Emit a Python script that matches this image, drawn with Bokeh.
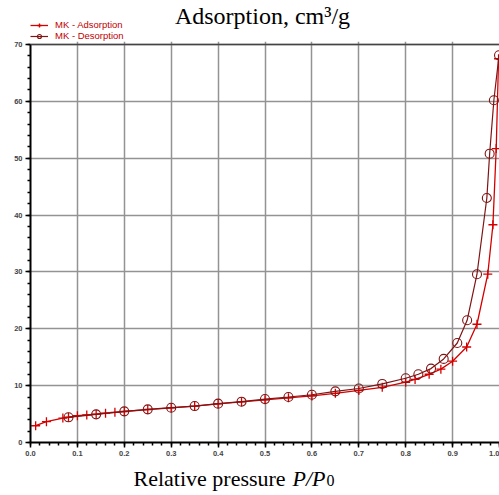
from bokeh.plotting import figure
from bokeh.layouts import column
from bokeh.models import (Legend, LegendItem, FixedTicker, Span,
                          NumeralTickFormatter, Range1d)
from bokeh.embed import file_html
from bokeh.resources import INLINE
from bokeh.core.properties import value

# ---- data ----
ads_x = [0.011, 0.034, 0.069, 0.081, 0.10, 0.12, 0.14, 0.16, 0.18, 0.20,
         0.25, 0.30, 0.35, 0.40, 0.45, 0.50, 0.55, 0.60, 0.65, 0.70,
         0.75, 0.80, 0.82, 0.85, 0.875, 0.90, 0.93, 0.952, 0.975, 0.986,
         0.993, 0.998]
ads_y = [2.95, 3.66, 4.30, 4.45, 4.71, 4.85, 4.98, 5.15, 5.30, 5.45,
         5.80, 6.10, 6.40, 6.80, 7.15, 7.50, 7.85, 8.20, 8.65, 9.15,
         9.70, 10.6, 11.1, 12.0, 12.9, 14.3, 16.8, 20.8, 29.6, 38.3,
         51.7, 67.5]

des_x = [0.081, 0.14, 0.20, 0.25, 0.30, 0.35, 0.40, 0.45, 0.50, 0.55,
         0.60, 0.65, 0.70, 0.75, 0.80, 0.827, 0.854, 0.881, 0.91, 0.931,
         0.952, 0.973, 0.979, 0.988, 0.999]
des_y = [4.43, 4.95, 5.48, 5.83, 6.12, 6.41, 6.83, 7.18, 7.64, 8.00,
         8.40, 9.00, 9.50, 10.3, 11.3, 12.0, 13.0, 14.7, 17.5, 21.5,
         29.6, 43.0, 50.8, 60.2, 68.1]

x_ticks = [0.0, 0.1, 0.2, 0.3, 0.4, 0.5, 0.6, 0.7, 0.8, 0.9, 1.0]
y_ticks = [0, 10, 20, 30, 40, 50, 60, 70]

title_text = "Adsorption, cm\u00b3/g"
xlab_1 = "Relative pressure "
xlab_2 = "P/P"
xlab_3 = "0"
legend_labels = ["MK - Adsorption", "MK - Desorption"]

ADS_COLOR = "#d40000"
DES_COLOR = "#7e1414"
SERIF = value("Liberation Serif")
NAN = float("nan")

W = 499
LEFT = 30
TOP_H = 41
MAIN_H = 421
BOT_H = 33


def strip(height, y0):
    f = figure(width=W, height=height, output_backend="svg",
               toolbar_location=None,
               x_range=Range1d(LEFT, W), y_range=Range1d(y0 + height, y0),
               x_axis_location=None, y_axis_location=None,
               min_border_left=LEFT, min_border_right=0,
               min_border_top=0, min_border_bottom=0)
    f.grid.visible = False
    f.outline_line_color = None
    f.background_fill_color = "white"
    f.border_fill_color = "white"
    return f


# ---------------- top strip: title + legend ----------------
top = strip(TOP_H, 0)
top.text(x=[262], y=[15], text=[title_text], text_align="center",
         text_baseline="alphabetic", text_font=SERIF,
         text_font_size="24px", text_color="black")

l_ads = top.line(x=[NAN], y=[NAN], line_color=ADS_COLOR, line_width=1.3)
m_ads = top.scatter(x=[NAN], y=[NAN], marker="cross", size=9,
                    line_color=ADS_COLOR, line_width=1.3)
l_des = top.line(x=[NAN], y=[NAN], line_color=DES_COLOR, line_width=1.2)
m_des = top.scatter(x=[NAN], y=[NAN], marker="circle", size=8,
                    line_color=DES_COLOR, fill_alpha=0, line_width=1.1)
legend = Legend(items=[
    LegendItem(label=legend_labels[0], renderers=[l_ads, m_ads]),
    LegendItem(label=legend_labels[1], renderers=[l_des, m_des]),
], location=(0, 0))
legend.label_text_font = "Arial"
legend.label_text_font_size = "9.5px"
legend.label_text_color = "#c00000"
legend.glyph_width = 18
legend.glyph_height = 10
legend.label_height = 10
legend.label_standoff = 7
legend.spacing = 0
legend.padding = 0
legend.margin = 0
legend.border_line_alpha = 0
legend.background_fill_alpha = 0
top.add_layout(legend, "center")

# ---------------- main plot ----------------
p = figure(width=W, height=MAIN_H, output_backend="svg", toolbar_location=None,
           title=None, x_range=Range1d(0, 1.0), y_range=Range1d(0, 70.53),
           min_border_left=LEFT, min_border_right=0, min_border_top=0,
           min_border_bottom=20)
p.background_fill_color = "white"
p.border_fill_color = "white"
p.outline_line_color = None

for g in (p.xgrid, p.ygrid):
    g.grid_line_color = "#939393"
    g.grid_line_width = 1.5
p.xgrid.ticker = FixedTicker(ticks=x_ticks)
p.ygrid.ticker = FixedTicker(ticks=y_ticks)
p.xgrid.bounds = (0, 70)
p.add_layout(Span(location=70, dimension="width", line_color="#444444",
                  line_width=1.5))

p.xaxis.ticker = FixedTicker(ticks=x_ticks,
                             minor_ticks=[i * 0.02 for i in range(51)])
p.yaxis.ticker = FixedTicker(ticks=y_ticks,
                             minor_ticks=[i * 2 for i in range(36)])
p.yaxis.bounds = (0, 70)
p.xaxis.formatter = NumeralTickFormatter(format="0.0")
for ax in (p.xaxis, p.yaxis):
    ax.axis_line_color = "black"
    ax.axis_line_width = 2
    ax.major_tick_line_color = "black"
    ax.major_tick_line_width = 1.5
    ax.minor_tick_line_color = "black"
    ax.minor_tick_line_width = 1.5
    ax.major_tick_out = 5
    ax.major_tick_in = 0
    ax.minor_tick_out = 3
    ax.minor_tick_in = 0
    ax.major_label_text_font = "Arial"
    ax.major_label_text_font_size = "7.5px"
    ax.major_label_text_font_style = "bold"
    ax.major_label_text_color = "#444444"
    ax.major_label_standoff = 3

p.line(ads_x, ads_y, line_color=ADS_COLOR, line_width=1.3)
p.scatter(ads_x, ads_y, marker="cross", size=9,
          line_color=ADS_COLOR, line_width=1.3)
p.line(des_x, des_y, line_color=DES_COLOR, line_width=1.2)
p.scatter(des_x, des_y, marker="circle", size=9,
          line_color=DES_COLOR, fill_alpha=0, line_width=1.1)

# ---------------- bottom strip: x label ----------------
bot = strip(BOT_H, TOP_H + MAIN_H)
bot.text(x=[133], y=[478], text=[xlab_1], text_baseline="alphabetic",
         text_font=SERIF, text_font_size="22px", text_color="black")
bot.text(x=[292], y=[478], text=[xlab_2], text_baseline="alphabetic",
         text_font=SERIF, text_font_style="italic", text_font_size="22px",
         text_color="black")
bot.text(x=[326], y=[480], text=[xlab_3], text_baseline="alphabetic",
         text_font=SERIF, text_font_size="16px", text_color="black")

layout = column(top, p, bot, spacing=0)
open("out.html", "w").write(file_html(layout, INLINE))
